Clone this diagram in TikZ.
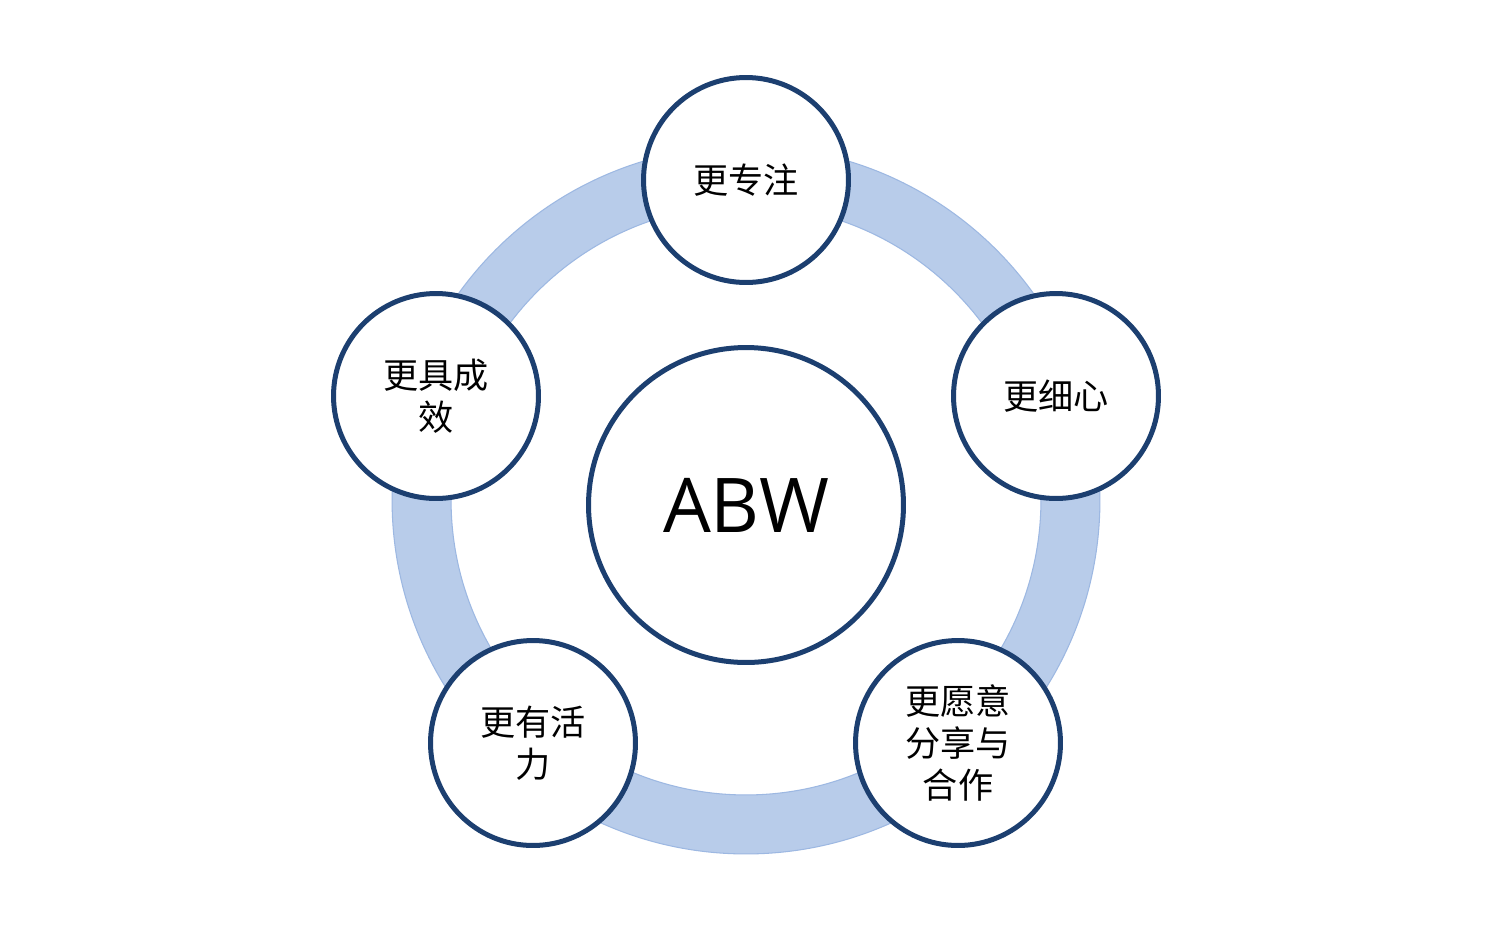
\documentclass[tikz,border=0pt]{standalone}
\usepackage{fontspec}
\setmainfont{Open Sans}
\newfontfamily\cjk{Noto Sans CJK SC}
\definecolor{ringc}{HTML}{B8CCEA}
\definecolor{ringedge}{HTML}{9DB8E2}
\definecolor{navy}{HTML}{1C3F70}
\begin{document}
\begin{tikzpicture}[x=0.02cm,y=-0.02cm,
  petal/.style={circle,draw=navy,line width=0.1cm,fill=white,minimum size=4.1cm,inner sep=0pt,align=center,
    font=\cjk\fontsize{20}{24}\selectfont},
  hub/.style={circle,draw=navy,line width=0.1cm,fill=white,minimum size=6.3cm,inner sep=0pt,
    font=\fontsize{43}{50}\selectfont}]
\useasboundingbox[fill=white] (0,0) rectangle (1500,951);
\coordinate (rc) at (746,500);
\fill[ringc,even odd rule,draw=ringedge,line width=0.6pt] (rc) circle[radius=7.08cm] (rc) circle[radius=5.9cm];
\node[hub] (abw) at (746,505) {ABW};
\node[petal] (p1) at (746,180) {更专注};
\node[petal] (p2) at (1056,396) {更细心};
\node[petal] (p3) at (958,743) {更愿意\\分享与\\合作};
\node[petal] (p4) at (533,743) {更有活\\力};
\node[petal] (p5) at (436,396) {更具成\\效};
\end{tikzpicture}
\end{document}
